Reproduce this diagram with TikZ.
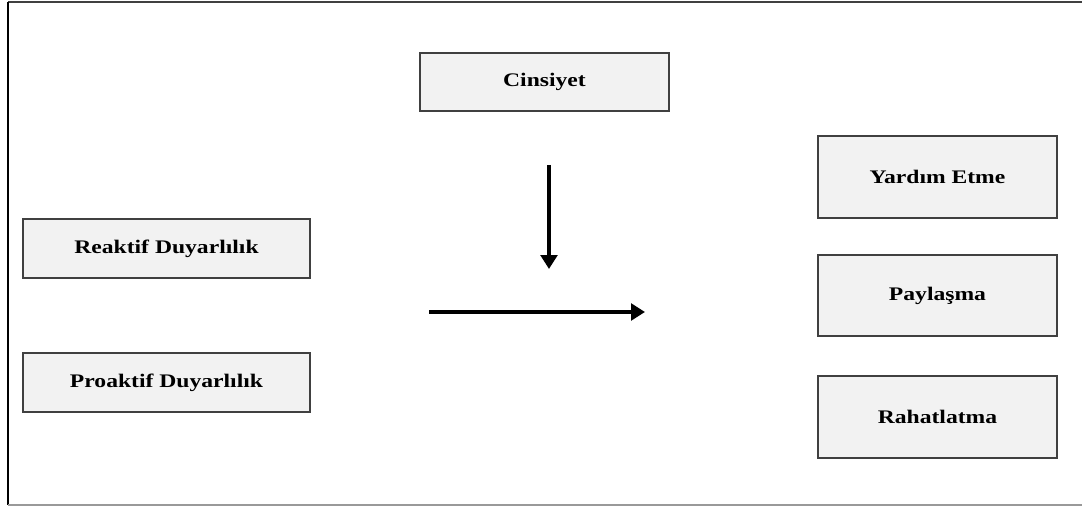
\documentclass[tikz,border=0pt]{standalone}
\usepackage{fontspec}
\setmainfont{Liberation Serif}[FakeStretch=1.23]
\usetikzlibrary{arrows.meta}
\definecolor{boxfill}{HTML}{F2F2F2}
\definecolor{boxline}{HTML}{404040}
\tikzset{
  varbox/.style={draw=boxline, line width=0.9pt, fill=boxfill, inner sep=0pt,
    font=\fontsize{14.4}{16}\selectfont\bfseries, align=center},
  flowarrow/.style={line width=2.6pt, -{Triangle[length=10.5pt,width=12.5pt]}},
}
\begin{document}
\begin{tikzpicture}[x=0.75pt,y=-0.75pt]
\useasboundingbox (0,0) rectangle (1082,506);
% outer frame (open on the right)
\draw[line width=1.1pt, draw=black!75] (8,2) -- (1082,2);
\draw[line width=1.5pt, draw=black] (8,2) -- (8,505);
\draw[line width=0.9pt, draw=black!40] (8,505) -- (1082,505);
% boxes
\node[varbox, minimum width=249*0.75pt, minimum height=58*0.75pt] (cins) at (544.5,82) {Cinsiyet};
\node[varbox, minimum width=287*0.75pt, minimum height=59*0.75pt] (reak) at (166.5,248.5) {Reaktif Duyarlılık};
\node[varbox, minimum width=287*0.75pt, minimum height=59*0.75pt] (proa) at (166.5,382.5) {Proaktif Duyarlılık};
\node[varbox, minimum width=239*0.75pt, minimum height=82*0.75pt] (yard) at (937.5,177) {Yardım Etme};
\node[varbox, minimum width=239*0.75pt, minimum height=81*0.75pt] (payl) at (937.5,295.5) {Paylaşma};
\node[varbox, minimum width=239*0.75pt, minimum height=82*0.75pt] (raha) at (937.5,417) {Rahatlatma};
% arrows
\coordinate (vs) at (549,165);
\coordinate (ve) at (549,269);
\coordinate (hs) at (429,312);
\coordinate (he) at (645,312);
\draw[flowarrow] (vs) -- (ve);
\draw[flowarrow] (hs) -- (he);
\end{tikzpicture}
\end{document}
